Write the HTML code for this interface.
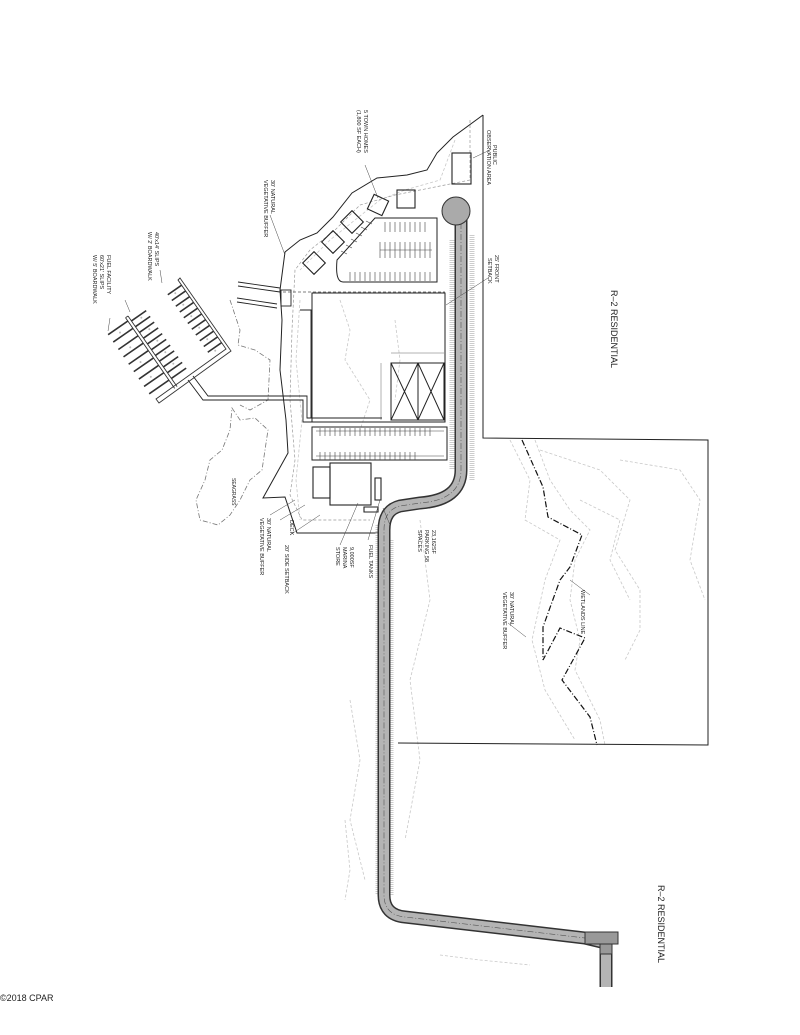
<!DOCTYPE html>
<html><head><meta charset="utf-8"><style>
html,body{margin:0;padding:0;background:#fff;}
svg{display:block;}
text{font-family:"Liberation Sans",sans-serif;fill:#222;}
</style></head><body>
<svg width="800" height="1035" viewBox="0 0 800 1035" xmlns="http://www.w3.org/2000/svg">
<rect width="800" height="1035" fill="#fff"/>
<!-- contours (light) -->
<g fill="none" stroke="#c8c8c8" stroke-width="0.8" stroke-dasharray="3,2">
<path d="M510,440 L530,480 L525,520 L560,540 L545,580 L532,640 L545,690 L575,740"/>
<path d="M535,440 L550,480 L570,510 L590,530 L575,560 L570,600 L580,640 L575,670 L600,720 L605,745"/>
<path d="M540,450 L600,470 L630,500 L615,550 L640,590 L640,630 L625,660"/>
<path d="M580,500 L620,520 L610,560 L630,600"/>
<path d="M620,460 L680,470 L700,500 L690,560 L705,600"/>
<path d="M340,300 L350,330 L345,360 L370,400 L360,430"/>
<path d="M395,320 L400,360 L395,400"/>
<path d="M300,300 L296,360 L302,420 L296,480 L300,520"/>
<path d="M420,520 L430,600 L410,680 L420,760 L405,840"/>
<path d="M350,700 L360,760 L350,820 L365,880"/>
<path d="M345,820 L350,870 L345,900"/>
<path d="M440,955 L480,960 L530,965"/>
<path d="M455,140 L440,180 L405,190 L380,200 L330,240 L300,270"/>
</g>
<!-- seagrass -->
<path d="M232,408 L240,420 L255,418 L268,430 L262,470 L250,480 L240,500 L230,515 L218,525 L200,520 L196,500 L205,480 L210,460 L222,450 L230,430 Z" fill="none" stroke="#777" stroke-width="0.8" stroke-dasharray="5,2,1,2"/>
<path d="M230,300 L240,330 L238,345 L255,350 L270,360 L268,400 L250,410 L240,405" fill="none" stroke="#777" stroke-width="0.8" stroke-dasharray="5,2,1,2"/>
<text transform="translate(232,478) rotate(90)" font-size="5">SEAGRASS</text>
<!-- property boundary -->
<g fill="none" stroke="#222" stroke-width="1">
<path d="M483,115 L483,438 L708,440 L708,745 L398,743"/>
<path d="M483,115 L453,137 L437,153 L427,170 L407,175 L377,178 L352,193 L333,217 L317,233 L300,240 L285,252 L280,290 L282,320 L280,370 L286,420 L288,453 L263,498 L285,497 L297,533 L380,533"/>
</g>
<path d="M470,120 L470,180 L445,185 L420,190 L395,195 L360,205 L335,230 L310,250 L295,270 L292,330 L290,400 L295,460 L290,495 L302,520 L370,520" fill="none" stroke="#999" stroke-width="0.7" stroke-dasharray="3,2"/>
<!-- wetlands line -->
<path d="M522,440 L543,487 L548,517 L582,535 L570,567 L560,580 L543,627 L543,660 L560,628 L585,638 L562,680 L590,717 L597,745" fill="none" stroke="#111" stroke-width="1.2" stroke-dasharray="6,2,1,2"/>
<!-- stipple strips -->
<g stroke="#ccc" stroke-width="5" stroke-dasharray="1,1" fill="none">
<path d="M472,235 L472,480"/>
<path d="M452,240 L452,470"/>
<path d="M378,525 L378,895"/>
<path d="M391,540 L391,895"/>
</g>
<!-- road -->
<path d="M461,212 L461,470 Q461,500 420,503 L400,506 Q384,510 384,530 L384,895 Q384,915 405,917 L585,938 L606,943 L606,987" fill="none" stroke="#333" stroke-width="13"/>
<path d="M461,212 L461,470 Q461,500 420,503 L400,506 Q384,510 384,530 L384,895 Q384,915 405,917 L585,938 L606,943 L606,987" fill="none" stroke="#b4b4b4" stroke-width="10"/>
<path d="M461,212 L461,470 Q461,500 420,503 L400,506 Q384,510 384,530 L384,895 Q384,915 405,917 L585,938" fill="none" stroke="#555" stroke-width="0.6" stroke-dasharray="6,2,1,2"/>
<circle cx="456" cy="211" r="14" fill="#aaa" stroke="#333" stroke-width="1"/>
<rect x="585" y="932" width="33" height="12" fill="#999" stroke="#333"/>
<rect x="600" y="944" width="12" height="10" fill="#999" stroke="#333"/>
<!-- upper parking -->
<path d="M437,218 L375,218 L337,260 Q335,282 343,282 L437,282 Z" fill="none" stroke="#222" stroke-width="1"/>
<g stroke="#444" stroke-width="0.6">
<path d="M385,222 v10 M390,222 v10 M395,222 v10 M400,222 v10 M405,222 v10 M410,222 v10 M415,222 v10 M420,222 v10 M425,222 v10"/>
<path d="M380,242 v16 M385,242 v16 M390,242 v16 M395,242 v16 M400,242 v16 M405,242 v16 M410,242 v16 M415,242 v16 M420,242 v16 M425,242 v16 M430,242 v16 M380,250 h52"/>
<path d="M350,272 v9 M355,272 v9 M360,272 v9 M365,272 v9 M370,272 v9 M375,272 v9 M380,272 v9 M385,272 v9 M390,272 v9 M395,272 v9 M400,272 v9 M405,272 v9 M410,272 v9 M415,272 v9 M420,272 v9 M425,272 v9 M430,272 v9"/>
<path d="M372,224 l-6,-3 M367,230 l-6,-3 M362,236 l-6,-3 M357,242 l-6,-3 M352,248 l-6,-3 M347,254 l-6,-3"/>
</g>
<!-- town homes -->
<g fill="none" stroke="#222" stroke-width="1.1">
<rect x="-8" y="-8" width="16" height="16" transform="translate(378,205) rotate(25)"/>
<rect x="-8" y="-8" width="16" height="16" transform="translate(352,222) rotate(45)"/>
<rect x="-8" y="-8" width="16" height="16" transform="translate(333,242) rotate(45)"/>
<rect x="-8" y="-8" width="16" height="16" transform="translate(314,263) rotate(45)"/>
<rect x="397" y="190" width="18" height="18"/>
<rect x="452" y="153" width="19" height="31"/>
</g>
<!-- lot -->
<path d="M283,292 L445,292" stroke="#555" stroke-width="0.8" stroke-dasharray="3,2"/>
<path d="M312,293 L445,293 L445,422 L312,422 Z" fill="none" stroke="#222" stroke-width="1"/>
<g fill="none" stroke="#222" stroke-width="1">
<rect x="391" y="363" width="27" height="57"/><rect x="418" y="363" width="26" height="57"/>
<path d="M391,363 L418,420 M418,363 L391,420 M418,363 L444,420 M444,363 L418,420"/>
</g>
<path d="M391,353 h53 M381,363 v57" stroke="#666" stroke-width="0.5"/>
<!-- lower parking -->
<path d="M312,427 L447,427 L447,460 L312,460 Z" fill="none" stroke="#222" stroke-width="1"/>
<path d="M316,431 L444,431 M316,456 L444,456" stroke="#444" stroke-width="0.5"/>
<g stroke="#444" stroke-width="0.6">
<path d="M320,428 v8 M325,428 v8 M330,428 v8 M335,428 v8 M340,428 v8 M345,428 v8 M350,428 v8 M355,428 v8 M360,428 v8 M365,428 v8 M370,428 v8 M375,428 v8 M380,428 v8 M385,428 v8 M390,428 v8 M395,428 v8 M400,428 v8 M405,428 v8 M410,428 v8 M415,428 v8 M420,428 v8 M425,428 v8 M430,428 v8"/>
<path d="M320,452 v8 M325,452 v8 M330,452 v8 M335,452 v8 M340,452 v8 M345,452 v8 M350,452 v8 M355,452 v8 M360,452 v8 M365,452 v8 M370,452 v8 M375,452 v8 M380,452 v8 M385,452 v8 M390,452 v8 M395,452 v8 M400,452 v8 M405,452 v8 M410,452 v8 M415,452 v8"/>
</g>
<!-- store, deck, tank -->
<g fill="none" stroke="#222" stroke-width="1.1">
<rect x="330" y="463" width="41" height="42"/>
<rect x="313" y="467" width="17" height="31"/>
<rect x="375" y="478" width="6" height="22"/>
<path d="M364,507 h14 v5 h-14 Z"/>
</g>
<!-- walkways -->
<g fill="none" stroke="#222" stroke-width="0.9">
<path d="M188,380 L203,400 L303,400 L303,422 L382,422"/>
<path d="M193,376 L208,396 L307,396 L307,418 L382,418"/>
<path d="M300,310 L311,310 L311,418"/>
<path d="M238,282 L280,288 M238,286 L280,292"/>
<path d="M237,298 L277,304 M237,302 L277,308"/>
<rect x="281" y="290" width="10" height="16"/>
</g>
<!-- docks -->
<g fill="none" stroke="#333" stroke-width="0.9">
<path d="M180,278 L231,351 L159,403 L156,399 L226,349 L178,280 Z"/>
</g>
<!-- right walk fingers (rotated frame) -->
<g transform="translate(180,279) rotate(55.2)" stroke="#333" stroke-width="1.6">
<path d="M6,2 v17 M13,2 v17 M20,2 v17 M27,2 v17 M34,2 v17 M41,2 v17 M48,2 v17 M55,2 v17 M62,2 v17 M69,2 v17 M76,2 v17"/>
<g fill="#bbb" stroke="none"><circle cx="9" cy="12" r="1"/><circle cx="23" cy="12" r="1"/><circle cx="37" cy="12" r="1"/><circle cx="51" cy="12" r="1"/><circle cx="65" cy="12" r="1"/><circle cx="79" cy="12" r="1"/></g>
</g>
<g transform="translate(128,316) rotate(55.2)">
<path d="M0,0 L86,0 M0,3 L86,3 M0,0 v3" stroke="#333" stroke-width="0.9" fill="none"/>
<path d="M6,0 v-18 M13,0 v-18 M20,0 v-18 M27,0 v-18 M34,0 v-18 M41,0 v-18 M48,0 v-18 M55,0 v-18 M62,0 v-18 M69,0 v-18 M76,0 v-18" stroke="#333" stroke-width="1.6"/>
<path d="M4,3 v24 M13,3 v24 M22,3 v24 M31,3 v24 M40,3 v24 M49,3 v24 M58,3 v24 M67,3 v24 M76,3 v24" stroke="#333" stroke-width="1.6"/>
<g fill="#bbb"><circle cx="9" cy="-10" r="1"/><circle cx="23" cy="-10" r="1"/><circle cx="37" cy="-10" r="1"/><circle cx="51" cy="-10" r="1"/><circle cx="65" cy="-10" r="1"/><circle cx="9" cy="16" r="1"/><circle cx="27" cy="16" r="1"/><circle cx="45" cy="16" r="1"/><circle cx="63" cy="16" r="1"/></g>
</g>
<!-- leaders -->
<g stroke="#444" stroke-width="0.5" fill="none">
<path d="M365,165 L378,198"/><path d="M473,158 L490,150"/>
<path d="M270,215 L285,255"/><path d="M488,278 L446,305"/>
<path d="M160,270 L162,283"/><path d="M125,300 L130,312"/><path d="M110,318 L108,331"/>
<path d="M383,508 L390,525"/><path d="M358,503 L340,545"/><path d="M380,500 L368,540"/>
<path d="M295,500 L270,515"/><path d="M305,505 L280,520"/><path d="M320,515 L290,535"/>
<path d="M570,580 L590,595"/><path d="M526,637 L508,623"/>
</g>
<!-- texts (rotated) -->
<g font-size="5.5">
<text transform="translate(611,290) rotate(90)" font-size="9">R–2  RESIDENTIAL</text>
<text transform="translate(658,885) rotate(90)" font-size="9">R–2  RESIDENTIAL</text>
<text transform="translate(493,145) rotate(90)">PUBLIC</text>
<text transform="translate(487,130) rotate(90)">OBSERVATION AREA</text>
<text transform="translate(364,110) rotate(90)">5 TOWN HOMES</text>
<text transform="translate(357,110) rotate(90)">(1,800 SF EACH)</text>
<text transform="translate(495,255) rotate(90)">25' FRONT</text>
<text transform="translate(488,258) rotate(90)">SETBACK</text>
<text transform="translate(271,180) rotate(90)">30' NATURAL</text>
<text transform="translate(264,180) rotate(90)">VEGETATIVE BUFFER</text>
<text transform="translate(155,232) rotate(90)">40'x14' SLIPS</text>
<text transform="translate(148,232) rotate(90)">W/ 2' BOARDWALK</text>
<text transform="translate(107,255) rotate(90)">FUEL FACILITY</text>
<text transform="translate(100,255) rotate(90)">60'x21' SLIPS</text>
<text transform="translate(93,255) rotate(90)">W/ 5' BOARDWALK</text>
<text transform="translate(432,530) rotate(90)">23,162SF</text>
<text transform="translate(425,530) rotate(90)">PARKING 58</text>
<text transform="translate(418,530) rotate(90)">SPACES</text>
<text transform="translate(369,545) rotate(90)">FUEL TANKS</text>
<text transform="translate(350,547) rotate(90)">9,000SF</text>
<text transform="translate(343,547) rotate(90)">MARINA</text>
<text transform="translate(336,547) rotate(90)">STORE</text>
<text transform="translate(290,520) rotate(90)">DECK</text>
<text transform="translate(267,518) rotate(90)">30' NATURAL</text>
<text transform="translate(260,518) rotate(90)">VEGETATIVE BUFFER</text>
<text transform="translate(285,545) rotate(90)">20' SIDE SETBACK</text>
<text transform="translate(581,590) rotate(90)">WETLANDS LINE</text>
<text transform="translate(510,592) rotate(90)">30' NATURAL</text>
<text transform="translate(503,592) rotate(90)">VEGETATIVE BUFFER</text>
</g>
<text x="0" y="1001" font-size="9" fill="#555">©2018 CPAR</text>
</svg>
</body></html>
